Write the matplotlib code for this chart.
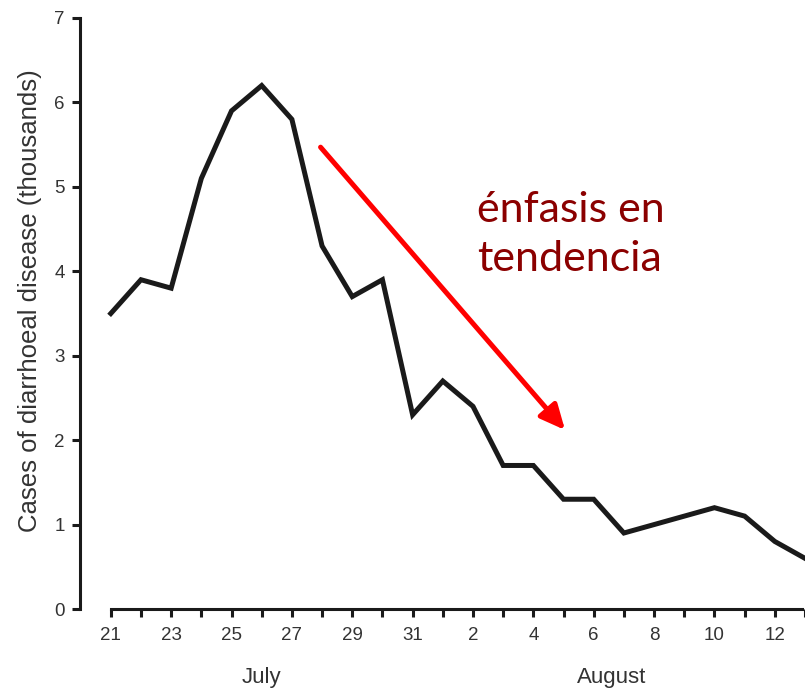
import matplotlib
matplotlib.use("Agg")
import matplotlib.pyplot as plt
from matplotlib.transforms import blended_transform_factory

# Data: days from 21 July to 13 August
day_labels = ["21", "22", "23", "24", "25", "26", "27", "28", "29", "30", "31",
              "1", "2", "3", "4", "5", "6", "7", "8", "9", "10", "11", "12", "13"]
cases = [3.5, 3.9, 3.8, 5.1, 5.9, 6.2, 5.8, 4.3, 3.7, 3.9, 2.3,
         2.7, 2.4, 1.7, 1.7, 1.3, 1.3, 0.9, 1.0, 1.1, 1.2, 1.1, 0.8, 0.6]
month_labels = ["July", "August"]
month_centers = [5.0, 16.6]
yticks = [0, 1, 2, 3, 4, 5, 6, 7]
arrow_start = (6.95, 5.47)
arrow_end = (15.05, 2.12)
annotation_lines = ["énfasis en", "tendencia"]

plt.rcParams["font.family"] = ["Liberation Sans", "DejaVu Sans"]

x = list(range(len(cases)))

fig = plt.figure(figsize=(8.05, 6.90), dpi=100)
ax = fig.add_axes([80 / 805, 81 / 690, 725 / 805, 591 / 690])

ax.plot(x, cases, color="#1a1a1a", lw=3.6, solid_joinstyle="miter", clip_on=True)

ax.set_xlim(-1.02, 22.91)
ax.set_ylim(0, 7)

for s in ["top", "right"]:
    ax.spines[s].set_visible(False)
ax.spines["left"].set_bounds(0, 7)
ax.spines["bottom"].set_bounds(0, 22.91)
for s in ["left", "bottom"]:
    ax.spines[s].set_linewidth(2.2)
    ax.spines[s].set_color("#1a1a1a")

ax.set_yticks(yticks)
ax.set_yticklabels([str(v) for v in yticks])
ax.set_xticks(x)
ax.set_xticklabels([lab if i % 2 == 0 else "" for i, lab in enumerate(day_labels)])
ax.tick_params(axis="both", colors="#1a1a1a", width=2.2, length=6, labelsize=13.5,
               labelcolor="#333333")
ax.tick_params(axis="x", pad=7)
ax.tick_params(axis="y", pad=5)

ax.text(30 / 805, 1 - 0.5 * (65 + 537) / 690, "Cases of diarrhoeal disease (thousands)",
        transform=fig.transFigure, rotation=90, ha="center", va="center",
        fontsize=18.5, color="#333333")

trans = blended_transform_factory(ax.transData, fig.transFigure)
for lab, cx in zip(month_labels, month_centers):
    ax.text(cx, 1 - 683 / 690, lab, transform=trans, ha="center", va="baseline",
            fontsize=16, color="#333333")

ax.annotate("", xy=arrow_end, xytext=arrow_start,
            arrowprops=dict(arrowstyle="-|>,head_length=0.75,head_width=0.35",
                            color="#ff0000", lw=3.6, mutation_scale=20,
                            shrinkA=0, shrinkB=0))

for line, base in zip(annotation_lines, [222, 271]):
    fig.text(477 / 805, 1 - base / 690, line, ha="left", va="baseline",
             fontsize=31, color="#8b0000", family="Lato")

fig.savefig("out.png", dpi=100)
